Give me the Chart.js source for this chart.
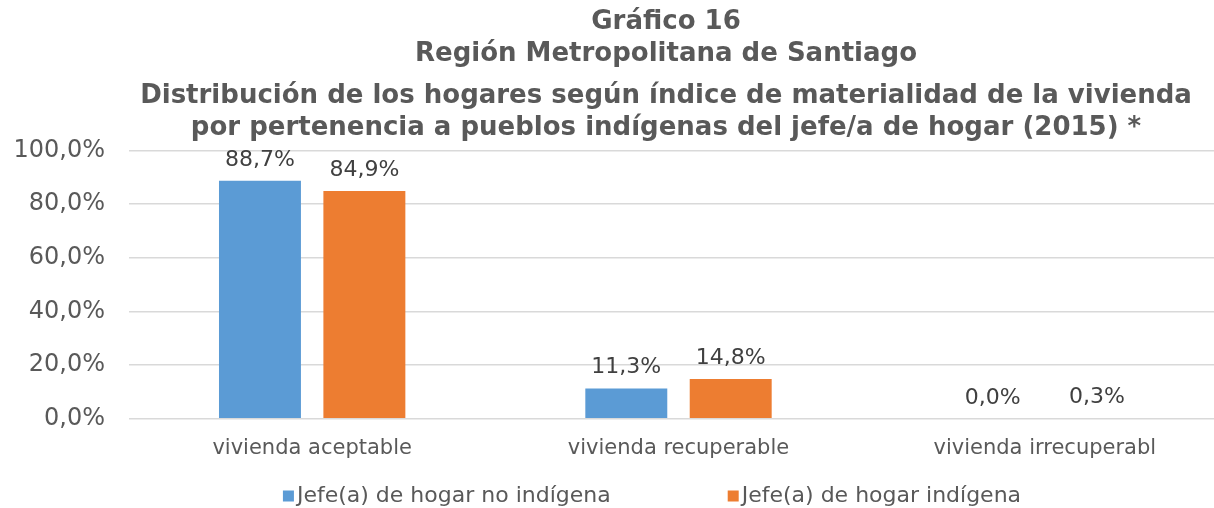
<!DOCTYPE html>
<html>
<head>
<meta charset="utf-8">
<script src="https://cdn.jsdelivr.net/npm/chart.js@4.4.0/dist/chart.umd.min.js"></script>
<style>
  html, body { margin: 0; padding: 0; background: #ffffff; }
  #wrap { width: 1214px; height: 508px; overflow: hidden; position: relative; }
  #box { width: 1332px; height: 508px; position: absolute; left: 0; top: 0; }
</style>
</head>
<body>
<div id="wrap"><div id="box"><canvas id="c"></canvas></div></div>
<script>
const categories = ["vivienda aceptable", "vivienda recuperable", "vivienda irrecuperabl"];
const seriesNames = ["Jefe(a) de hogar no indígena", "Jefe(a) de hogar indígena"];
const noIndigena = [88.7, 11.3, 0.0];
const indigena = [84.9, 14.8, 0.3];
const yTicks = [0, 20, 40, 60, 80, 100];
const titleLines = ["Gráfico 16", "Región Metropolitana de Santiago"];
const subtitleLines = ["Distribución de los hogares según índice de materialidad de la vivienda",
                       "por pertenencia a pueblos indígenas del jefe/a de hogar (2015) *"];
const colors = ["#5B9BD5", "#ED7D31"];

const FONT = "'DejaVu Sans', Verdana, sans-serif";
const fmt = v => v.toFixed(1).replace('.', ',') + '%';

const valueLabels = {
  id: 'valueLabels',
  afterDatasetsDraw(chart) {
    const ctx = chart.ctx;
    ctx.save();
    ctx.font = "22px " + FONT;
    ctx.fillStyle = "#404040";
    ctx.textAlign = "center";
    ctx.textBaseline = "alphabetic";
    chart.data.datasets.forEach((ds, di) => {
      const meta = chart.getDatasetMeta(di);
      meta.data.forEach((bar, i) => {
        ctx.fillText(fmt(ds.data[i]), bar.x, bar.y - 15);
      });
    });
    ctx.restore();
  }
};

const bottomLegend = {
  id: 'bottomLegend',
  afterDraw(chart) {
    const ctx = chart.ctx;
    ctx.save();
    ctx.font = "22px " + FONT;
    ctx.textBaseline = "middle";
    ctx.textAlign = "left";
    const box = 11, gapBox = 3, gapItems = 117;
    const widths = chart.data.datasets.map(ds => box + gapBox + ctx.measureText(ds.label).width);
    const total = widths.reduce((a, b) => a + b, 0) + gapItems * (widths.length - 1);
    let x = 652 - total / 2;
    const y = 496;
    chart.data.datasets.forEach((ds, i) => {
      ctx.fillStyle = ds.backgroundColor;
      ctx.fillRect(x, y - box / 2, box, box);
      ctx.fillStyle = "#595959";
      ctx.fillText(ds.label, x + box + gapBox, y);
      x += widths[i] + gapItems;
    });
    ctx.restore();
  }
};

new Chart(document.getElementById('c'), {
  type: 'bar',
  data: {
    labels: categories,
    datasets: [
      { label: seriesNames[0], data: noIndigena, backgroundColor: colors[0], categoryPercentage: 0.57, barPercentage: 0.785 },
      { label: seriesNames[1], data: indigena, backgroundColor: colors[1], categoryPercentage: 0.57, barPercentage: 0.785 }
    ]
  },
  options: {
    responsive: true,
    maintainAspectRatio: false,
    animation: false,
    layout: { padding: { top: 0, left: 0, right: 0, bottom: 38 } },
    plugins: {
      legend: { display: false },
      tooltip: { enabled: false },
      title: {
        display: true,
        text: titleLines,
        color: "#595959",
        font: { family: FONT, size: 26, weight: 'bold', lineHeight: 1.2 },
        padding: { top: 7, bottom: 5 }
      },
      subtitle: {
        display: true,
        text: subtitleLines,
        color: "#595959",
        font: { family: FONT, size: 26, weight: 'bold', lineHeight: 1.23 },
        padding: { top: 6, bottom: 6 }
      }
    },
    scales: {
      x: {
        grid: { display: false },
        border: { display: false },
        ticks: { color: "#595959", font: { family: FONT, size: 21 }, padding: 9, maxRotation: 0, autoSkip: false }
      },
      y: {
        min: 0, max: 100,
        afterFit(s) { s.width = 129; },
        afterBuildTicks(s) { s.ticks = yTicks.map(v => ({ value: v })); },
        grid: { color: "#D9D9D9", lineWidth: 1.5, drawTicks: false },
        border: { display: false },
        ticks: { color: "#595959", font: { family: FONT, size: 24 }, padding: 24, callback: v => fmt(v) }
      },
      yr: {
        position: 'right',
        min: 0, max: 100,
        afterFit(s) { s.width = 104; },
        grid: { display: false, drawTicks: false },
        border: { display: false },
        ticks: { display: false }
      }
    }
  },
  plugins: [valueLabels, bottomLegend]
});
</script>
</body>
</html>
